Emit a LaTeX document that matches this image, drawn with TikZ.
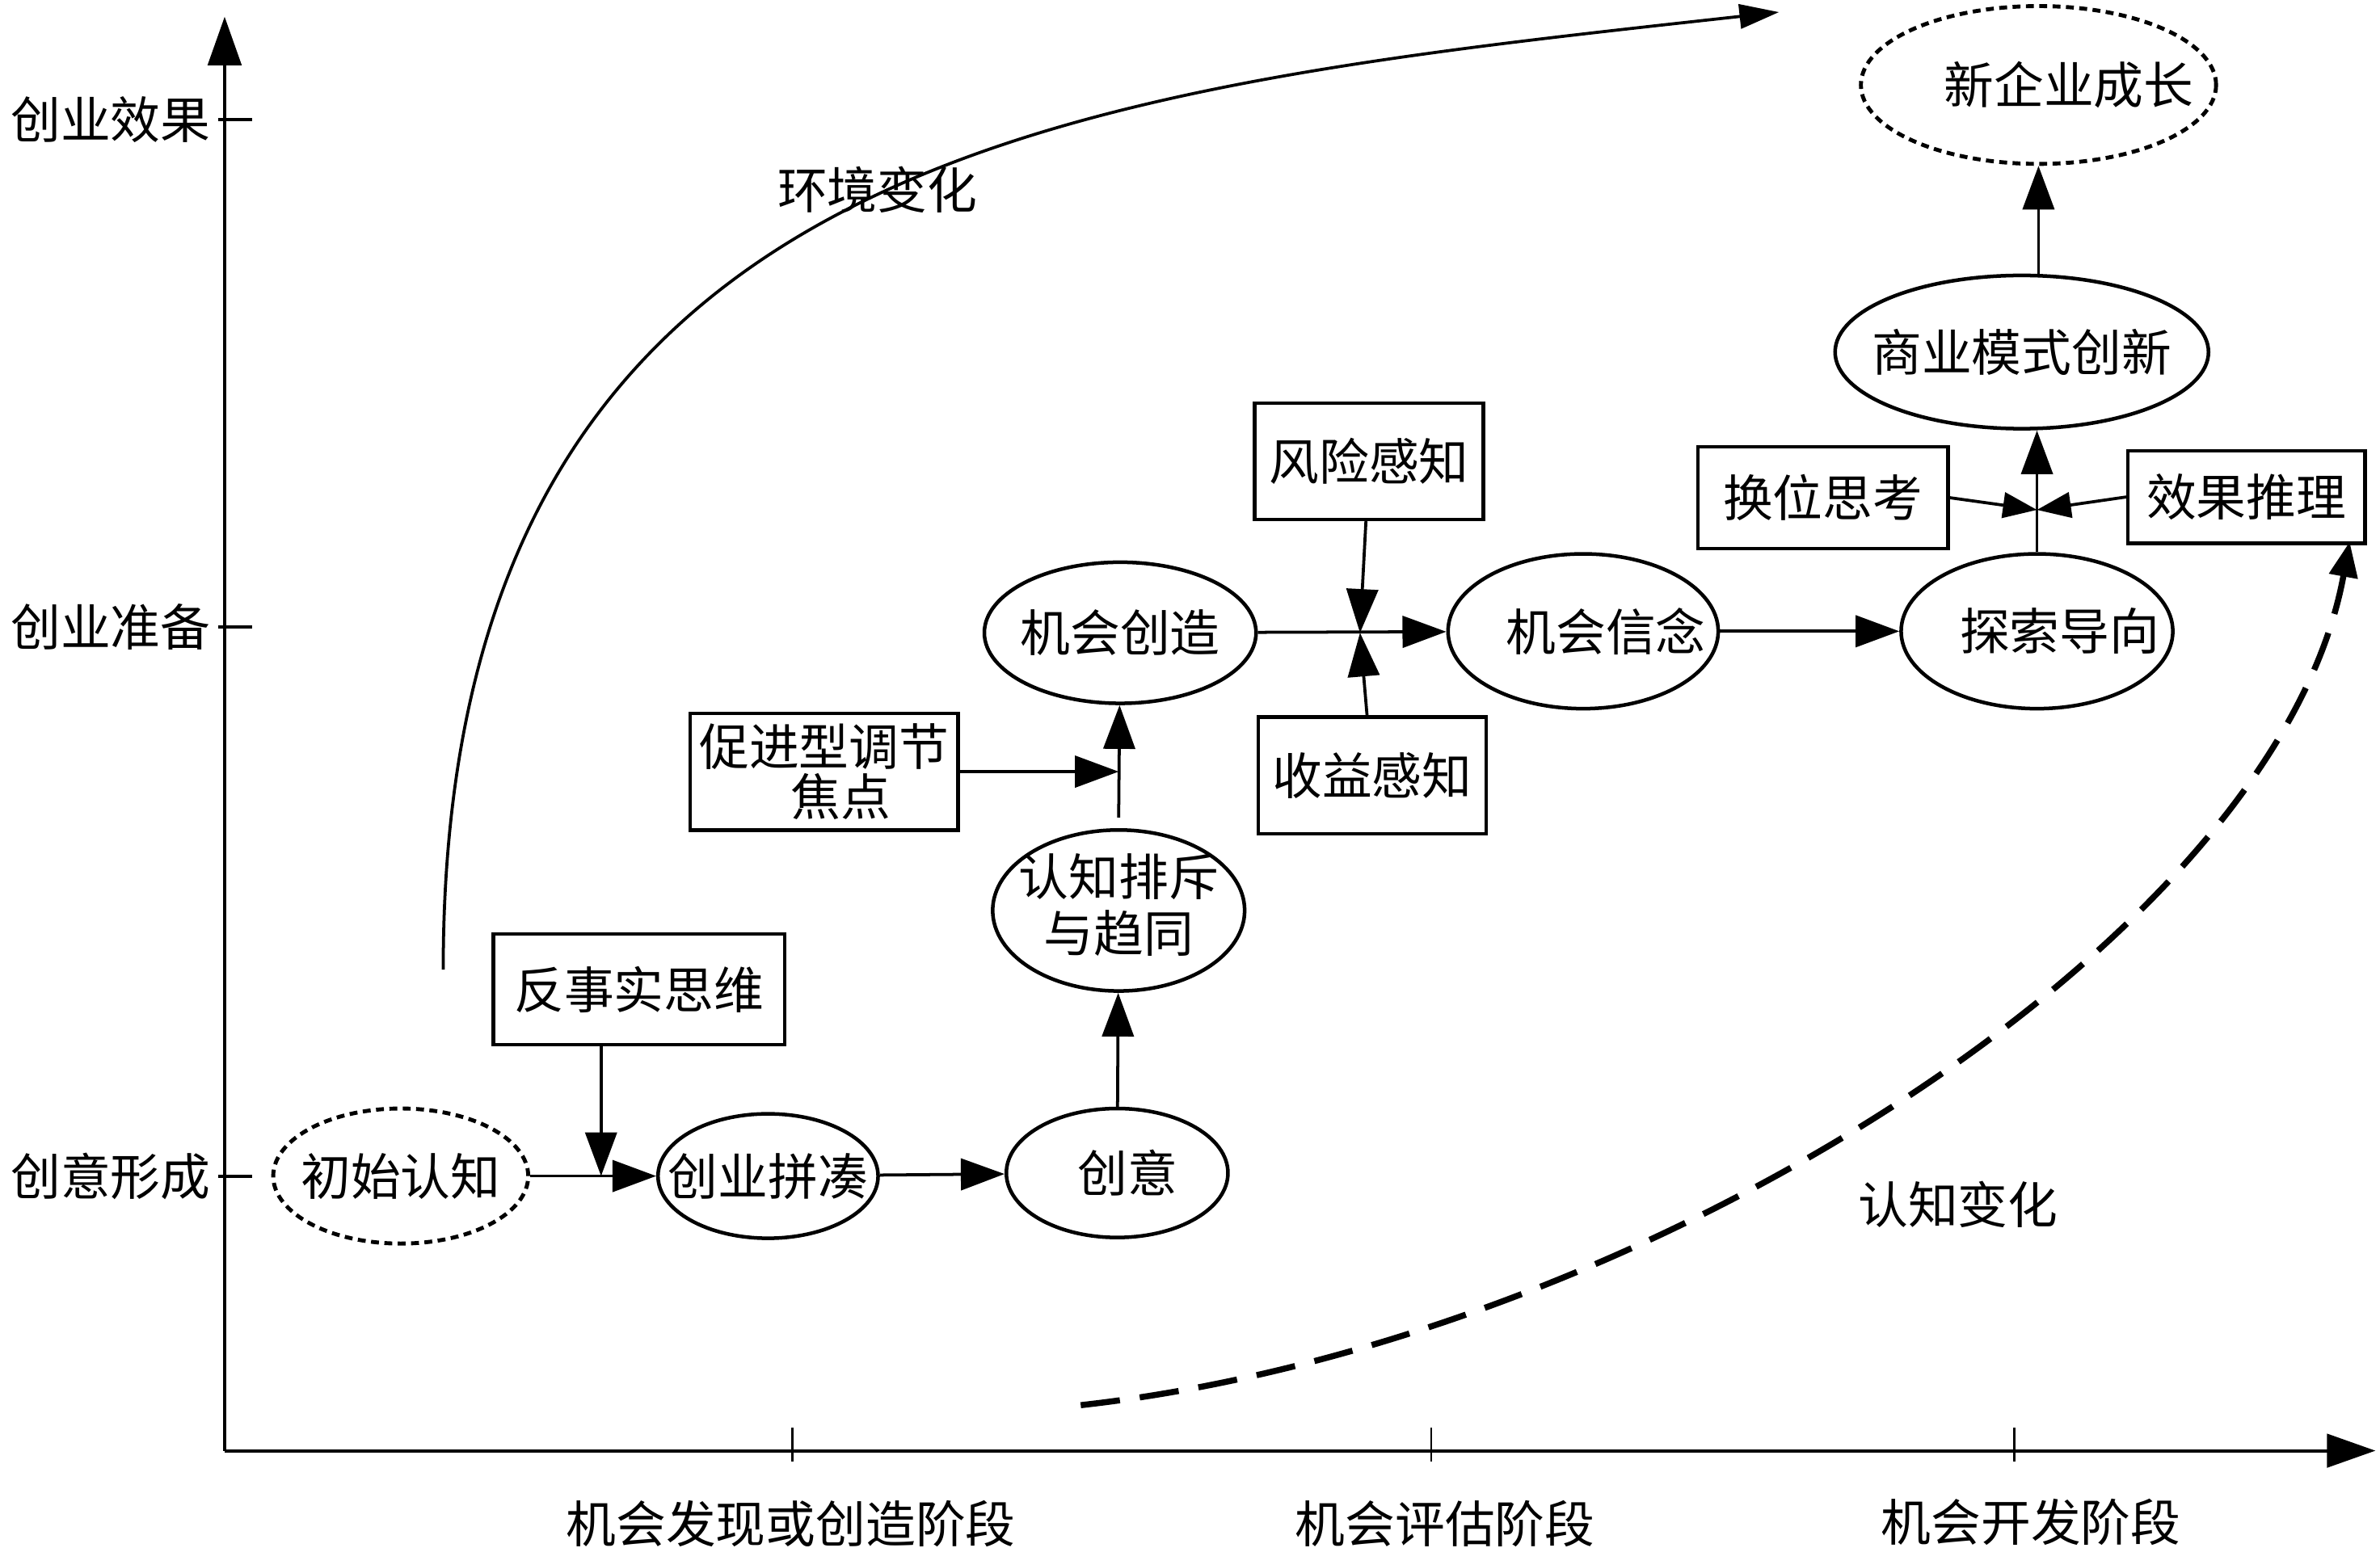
\documentclass[tikz,border=0pt]{standalone}
\usepackage{fontspec}
\setmainfont{Noto Sans CJK SC}
\usepackage{tikz}
\usetikzlibrary{arrows.meta}
\usetikzlibrary{shapes.geometric}
\newcommand{\zerobox}[1]{\makebox[0pt]{#1}}

\begin{document}
\begin{tikzpicture}[x=0.25mm, y=-0.25mm,
    every node/.style={font=\fontsize{23.4pt}{23.4pt}\selectfont, inner sep=0pt},
    oval/.style={draw, ellipse, line width=0.6mm},
    dotoval/.style={oval, line width=0.65mm, dash pattern=on 1.3mm off 0.9mm},
    box/.style={draw, rectangle, line width=0.6mm},
    arr/.style={line width=0.5mm, -{Triangle[length=7.2mm, width=5.2mm]}},
    arrs/.style={line width=0.5mm, -{Triangle[length=5.6mm, width=4.2mm]}}]
      \useasboundingbox (0,0) rectangle (1568,1020);
      % Axis
      \coordinate (O) at (148,956);
      \coordinate (ytop) at (148,11);
      \coordinate (xend) at (1565,956);
      \draw[line width=0.55mm, -{Triangle[length=8mm, width=5.5mm]}] (O) -- (ytop);
      \draw[line width=0.55mm, -{Triangle[length=8mm, width=5.5mm]}] (O) -- (xend);
      % ticks on y axis
      \foreach \y/\t in {79/创业效果, 413/创业准备, 775/创意形成} {
        \draw[line width=0.55mm] (144,\y) -- (166,\y);
        \node[anchor=east] (ylab\y) at (139,\y) {\t};
      }
      % ticks on x axis
      \foreach \x in {522, 943, 1327} \draw[line width=0.35mm] (\x,941) -- (\x,963);
      \node (xlab1) at (521,1004) {机会发现或创造阶段};
      \node (xlab2) at (952,1004) {机会评估阶段};
      \node (xlab3) at (1338,1003) {机会开发阶段};
      % ovals
      \node[dotoval, minimum width=42mm, minimum height=22.25mm] (chushi) at (264,775) {\zerobox{初始认知}};
      \node[oval, minimum width=36.25mm, minimum height=20.5mm] (pincou) at (506,775) {\zerobox{创业拼凑}};
      \node[oval, minimum width=36.5mm, minimum height=21.25mm] (chuangyi) at (736,773) {\zerobox{\hspace{3.5mm}创意}};
      \node[oval, minimum width=41.5mm, minimum height=23.25mm] (paichi) at (737,600) {\zerobox{\begin{tabular}{@{}c@{}}认知排斥\\与趋同\end{tabular}}};
      \node[oval, minimum width=44.75mm, minimum height=23.25mm] (chuangzao) at (738,417) {\zerobox{机会创造}};
      \node[oval, minimum width=44.5mm, minimum height=25.5mm] (xinnian) at (1043,416) {\zerobox{\hspace{7.5mm}机会信念}};
      \node[oval, minimum width=44.75mm, minimum height=25.5mm] (tansuo) at (1342,416) {\zerobox{\hspace{7.5mm}探索导向}};
      \node[oval, minimum width=61.5mm, minimum height=25.25mm] (moshi) at (1332,232) {\zerobox{商业模式创新}};
      \node[dotoval, minimum width=58.5mm, minimum height=26mm] (chengzhang) at (1343,56) {\zerobox{\hspace{10mm}新企业成长}};
      % boxes
      \node[box, minimum width=48mm, minimum height=18.25mm] (fanshi) at (421,652) {反事实思维};
      \node[box, minimum width=44.1mm, minimum height=19.25mm, align=center] (cujin) at (543,508.5) {促进型调节\\\hspace*{5.5mm}焦点};
      \node[box, minimum width=37.65mm, minimum height=19.15mm] (fengxian) at (902,304) {风险感知};
      \node[box, minimum width=37.5mm, minimum height=19.2mm] (shouyi) at (904,511) {收益感知};
      \node[box, minimum width=41.25mm, minimum height=16.75mm] (huanwei) at (1201,328) {换位思考};
      \node[box, minimum width=39mm, minimum height=15.25mm] (xiaoguo) at (1480,327.5) {效果推理};
      % meeting points
      \coordinate (m1) at (396,775);
      \coordinate (m2) at (737,508.5);
      \coordinate (m3) at (896,417);
      \coordinate (m4) at (1342,336);
      % connectors
      \draw[arr] (chushi) -- (pincou);
      \draw[arr] (fanshi.south -| m1) -- (m1);
      \draw[arr] (pincou) -- (chuangyi);
      \draw[arr] (chuangyi) -- (paichi);
      \draw[arr] ([yshift=1.75mm]paichi.north) -- (chuangzao);
      \draw[arr] (cujin) -- (m2);
      \draw[arr] (chuangzao) -- (xinnian);
      \draw[arr] (fengxian) -- (m3);
      \draw[arr] (shouyi) -- (m3);
      \draw[arr] (xinnian) -- (tansuo);
      \draw[line width=0.5mm] (tansuo.north) -- (m4);
      \draw[arr] (m4) -- (m4 |- moshi.south);
      \draw[arrs] (huanwei.east) -- (m4);
      \draw[arrs] (xiaoguo.west) -- (m4);
      \draw[arr] (moshi.north -| chengzhang) -- (chengzhang.south);
      % environment change
      \coordinate (envs) at (292,639);
      \coordinate (enve) at (1172,8);
      \draw[line width=0.5mm, -{Triangle[length=6.5mm, width=4mm]}] (envs) .. controls (292,100) and (700,60) .. (enve);
      \node (envlab) at (578,125) {环境变化};
      % cognition change
      \coordinate (cogs) at (712,926);
      \coordinate (coge) at (1548,357);
      \draw[line width=1mm, dash pattern=on 6.5mm off 3.3mm, -{Triangle[length=5.8mm, width=4.6mm]}] (cogs) .. controls (1080,885) and (1500,620) .. (coge);
      \node (coglab) at (1290,794) {认知变化};
    \end{tikzpicture}
\end{document}
